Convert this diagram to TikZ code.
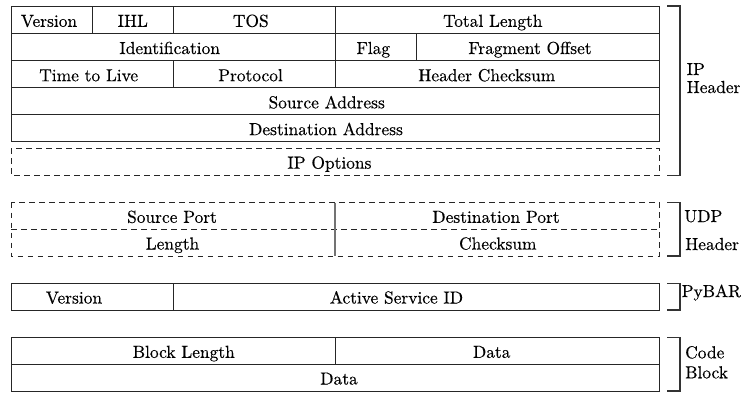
\documentclass[tikz,border=0pt]{standalone}
\usepackage{fontspec}
\newfontfamily\timesfam{lmroman10-regular}[Extension=.otf, FakeBold=0.35]
\newcommand{\fieldfont}{\timesfam\fontsize{17.4}{17.4}\selectfont}
\begin{document}
\begin{tikzpicture}[x=1pt,y=-1pt,
  solidln/.style={draw=black!85, line width=0.9pt},
  dashln/.style={draw=black!85, line width=0.9pt, dash pattern=on 5.5pt off 4.5pt},
  grayln/.style={draw=black!55, line width=1.1pt},
  brk/.style={draw=black!80, line width=1.2pt},
  fld/.style={anchor=base, inner sep=0pt, font=\fieldfont},
  side/.style={anchor=base west, inner sep=0pt, font=\fieldfont}]
\useasboundingbox (0,0) rectangle (744,392);

% ---------- IP header ----------
\draw[solidln] (11,6) rectangle (659.5,141.6);
\draw[solidln] (11,33.3) -- (659.5,33.3);
\draw[solidln] (11,60.5) -- (659.5,60.5);
\draw[solidln] (11,87.7) -- (659.5,87.7);
\draw[solidln] (11,114.8) -- (659.5,114.8);
\draw[solidln] (92,6) -- (92,33.3);
\draw[solidln] (173,6) -- (173,33.3);
\draw[solidln] (335,6) -- (335,33.3);
\draw[solidln] (335,33.3) -- (335,60.5);
\draw[solidln] (416,33.3) -- (416,60.5);
\draw[solidln] (173,60.5) -- (173,87.7);
\draw[solidln] (335,60.5) -- (335,87.7);
\draw[dashln] (11,148.3) rectangle (659.5,175.2);

\node[fld] (ver)   at (49,26.8)    {Version};
\node[fld] (ihl)   at (132.8,26.8) {IHL};
\node[fld] (tos)   at (250.8,26.8) {TOS};
\node[fld] (tlen)  at (492.8,26.8) {Total Length};
\node[fld] (ident) at (169.7,54)   {Identification};
\node[fld] (flag)  at (373.3,54)   {Flag};
\node[fld] (frag)  at (530,54)     {Fragment Offset};
\node[fld] (ttl)   at (88.7,81.2)  {Time to Live};
\node[fld] (proto) at (250.5,81.2) {Protocol};
\node[fld] (hcs)   at (486.8,81.2) {Header Checksum};
\node[fld] (src)   at (326.7,108.3) {Source Address};
\node[fld] (dst)   at (326,135.1)  {Destination Address};
\node[fld] (opt)   at (329.5,168.6) {IP Options};

\draw[brk] (667,6) -- (680,6) -- (680,175.2) -- (667,175.2);
\node[side] (iplab1) at (686.5,75) {IP};
\node[side] (iplab2) at (686.5,93) {Header};

% ---------- UDP header ----------
\draw[dashln] (11,202.7) rectangle (659.5,256);
\draw[dashln] (11,229.3) -- (659.5,229.3);
\draw[grayln] (335,202.7) -- (335,256);
\node[fld] (sport) at (172,222.8)   {Source Port};
\node[fld] (dport) at (496,222.8)   {Destination Port};
\node[fld] (ulen)  at (172.5,249.5) {Length};
\node[fld] (ucs)   at (497.8,249.5) {Checksum};

\draw[brk] (667,202.7) -- (680,202.7) -- (680,256) -- (667,256);
\node[side] (udplab1) at (684,222) {UDP};
\node[side] (udplab2) at (685,250) {Header};

% ---------- PyBAR ----------
\draw[solidln] (11,283.3) rectangle (659.5,310);
\draw[solidln] (173,283.3) -- (173,310);
\node[fld] (pver) at (74,303.5)    {Version};
\node[fld] (asid) at (396.5,303.5) {Active Service ID};

\draw[brk] (667,283.3) -- (680,283.3) -- (680,310) -- (667,310);
\node[side] (pylab) at (681.5,297) {PyBAR};

% ---------- Code block ----------
\draw[solidln] (11,337.7) rectangle (659.5,391);
\draw[solidln] (11,364.3) -- (659.5,364.3);
\draw[solidln] (335,337.7) -- (335,364.3);
\node[fld] (blen)  at (183.8,357.8) {Block Length};
\node[fld] (data1) at (491.7,357.8) {Data};
\node[fld] (data2) at (339,384.5)   {Data};

\draw[brk] (667,337.7) -- (680,337.7) -- (680,391) -- (667,391);
\node[side] (cblab1) at (685,358.3) {Code};
\node[side] (cblab2) at (685,378.3) {Block};
\end{tikzpicture}
\end{document}
